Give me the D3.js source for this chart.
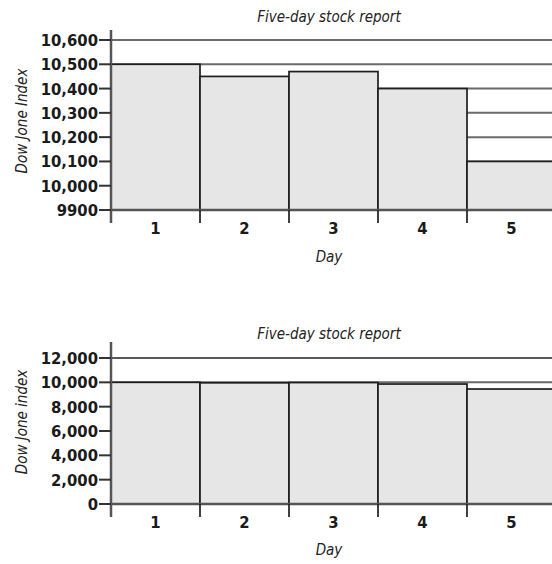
<!DOCTYPE html>
<html>
<head>
<meta charset="utf-8">
<script src="https://cdn.jsdelivr.net/npm/d3@7"></script>
<style>
  html, body { margin: 0; padding: 0; background: #fff; }
  svg { display: block; }
  .tick-label { font-family: "DejaVu Sans Condensed", "Liberation Sans Narrow", sans-serif; font-weight: bold; font-size: 16.5px; fill: #1a1a1a; }
  .ital { font-family: "DejaVu Sans Condensed", "Liberation Sans Narrow", sans-serif; font-style: italic; font-size: 15px; fill: #222; }
</style>
</head>
<body>
<svg id="chart" width="552" height="564"></svg>
<script>
// ---- data ----
const days = ["1", "2", "3", "4", "5"];
const topValues = [10500, 10450, 10470, 10400, 10100];
const topTicks = [9900, 10000, 10100, 10200, 10300, 10400, 10500, 10600];
const bottomValues = [10000, 9960, 9980, 9860, 9450];
const bottomTicks = [0, 2000, 4000, 6000, 8000, 10000, 12000];
const titleText = "Five-day stock report";
const xTitle = "Day";
const topYTitle = "Dow Jone Index";
const bottomYTitle = "Dow Jone index";

const svg = d3.select("#chart");

function drawPanel(cfg) {
  const g = svg.append("g");
  const x = d3.scaleBand().domain(days).range([111, 556]).paddingInner(0).paddingOuter(0);
  const y = d3.scaleLinear().domain(cfg.domain).range([cfg.y0, cfg.y1]);
  const fmt = cfg.fmt;

  // gridlines (behind bars)
  g.selectAll("line.grid").data(cfg.ticks.slice(1)).join("line")
    .attr("class", "grid")
    .attr("x1", 111).attr("x2", 560)
    .attr("y1", d => y(d)).attr("y2", d => y(d))
    .attr("stroke", (d, i, n) => (cfg.blackTop && i === n.length - 1) ? "#222" : "#6a6a6a")
    .attr("stroke-width", (d, i, n) => (cfg.blackTop && i === n.length - 1) ? 1.5 : 2);

  // bars
  g.selectAll("rect.bar").data(cfg.values).join("rect")
    .attr("class", "bar")
    .attr("x", (d, i) => x(days[i]))
    .attr("width", x.bandwidth())
    .attr("y", d => y(d))
    .attr("height", d => y(cfg.domain[0]) - y(d))
    .attr("fill", "#e6e6e6")
    .attr("stroke", "#1e1e1e")
    .attr("stroke-width", 1.7);

  // x axis baseline
  g.append("line")
    .attr("x1", 111).attr("x2", 560)
    .attr("y1", y(cfg.domain[0])).attr("y2", y(cfg.domain[0]))
    .attr("stroke", "#555").attr("stroke-width", 2.5);

  // x ticks at band boundaries
  const bounds = days.slice(1).map(d => x(d));
  g.selectAll("line.xt").data(bounds).join("line")
    .attr("class", "xt")
    .attr("x1", d => d).attr("x2", d => d)
    .attr("y1", y(cfg.domain[0])).attr("y2", y(cfg.domain[0]) + 13)
    .attr("stroke", "#1e1e1e").attr("stroke-width", 1.7);

  // x labels
  g.selectAll("text.xl").data(days).join("text")
    .attr("class", "tick-label")
    .attr("x", d => x(d) + x.bandwidth() / 2)
    .attr("y", y(cfg.domain[0]) + 24)
    .attr("text-anchor", "middle")
    .text(d => d);

  // y axis line
  g.append("line")
    .attr("x1", 111).attr("x2", 111)
    .attr("y1", cfg.axisTop).attr("y2", y(cfg.domain[0]) + 13)
    .attr("stroke", "#555").attr("stroke-width", 2.5);

  // y ticks
  g.selectAll("line.yt").data(cfg.ticks).join("line")
    .attr("class", "yt")
    .attr("x1", 99).attr("x2", 111)
    .attr("y1", d => y(d)).attr("y2", d => y(d))
    .attr("stroke", "#333").attr("stroke-width", 2);

  g.selectAll("text.yl").data(cfg.ticks).join("text")
    .attr("class", "tick-label")
    .attr("x", 98)
    .attr("y", d => y(d))
    .attr("dy", "0.36em")
    .attr("text-anchor", "end")
    .text(d => fmt(d));

  // title
  g.append("text").attr("class", "ital")
    .attr("x", 329).attr("y", cfg.titleY)
    .attr("text-anchor", "middle").text(titleText);

  // x title
  g.append("text").attr("class", "ital")
    .attr("x", 329).attr("y", cfg.xTitleY)
    .attr("text-anchor", "middle").text(xTitle);

  // y title
  g.append("text").attr("class", "ital")
    .attr("transform", `translate(27,${cfg.yTitleCY}) rotate(-90)`)
    .attr("text-anchor", "middle").text(cfg.yTitle);
}

drawPanel({
  values: topValues, ticks: topTicks, domain: [9900, 10600], y0: 210, y1: 40,
  fmt: d => d < 10000 ? String(d) : d3.format(",")(d),
  axisTop: 30, titleY: 22, xTitleY: 262, yTitleCY: 121, yTitle: topYTitle, blackTop: false
});

drawPanel({
  values: bottomValues, ticks: bottomTicks, domain: [0, 12000], y0: 504, y1: 358,
  fmt: d => d3.format(",")(d),
  axisTop: 342, titleY: 339, xTitleY: 555, yTitleCY: 422, yTitle: bottomYTitle, blackTop: true
});
</script>
</body>
</html>
